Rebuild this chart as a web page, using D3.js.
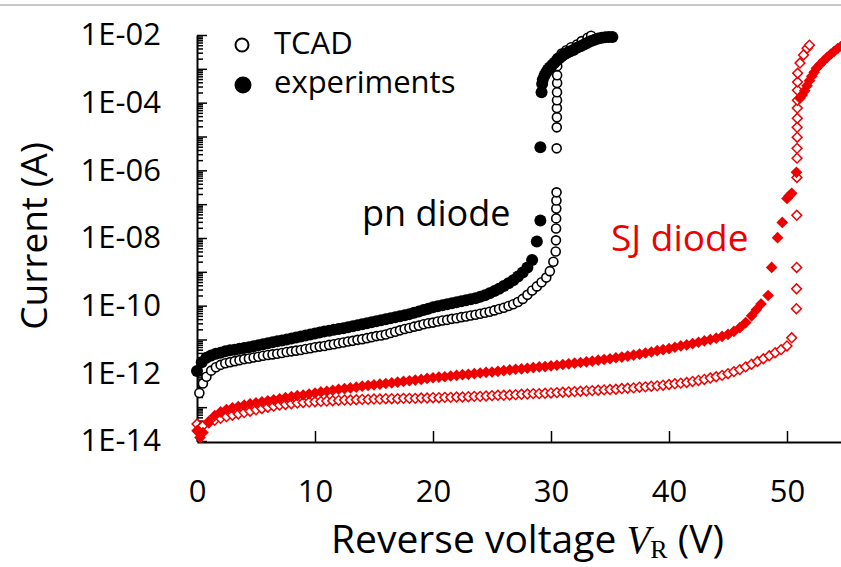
<!DOCTYPE html>
<html>
<head>
<meta charset="utf-8">
<script src="https://cdn.jsdelivr.net/npm/d3@7"></script>
<style>
body { margin: 0; background: #fff; }
text { font-family: "Open Sans", sans-serif; }
</style>
</head>
<body>
<script>
// pn diode, TCAD (open circles): reverse voltage (V) and log10 of current (A)
var pnTcadV = [0.2,0.5,0.8,1.2,1.6,2,2.4,2.8,3.2,3.6,
  4,4.4,4.8,5.2,5.6,6,6.4,6.8,7.2,7.6,
  8,8.4,8.8,9.2,9.6,10,10.4,10.8,11.2,11.6,
  12,12.4,12.8,13.2,13.6,14,14.4,14.8,15.2,15.6,
  16,16.4,16.8,17.2,17.6,18,18.4,18.8,19.2,19.6,
  20,20.4,20.8,21.2,21.6,22,22.4,22.8,23.2,23.6,
  24,24.4,24.8,25.2,25.6,26,26.4,26.8,27.2,27.6,
  28,28.4,28.8,29.2,29.6,29.9,30.2,
  30.4,30.42,30.43,30.44,30.45,30.46,30.47,30.48,30.49,30.5,30.5,30.51,30.51,30.52,30.52,30.53,30.55,
  30.9,31.3,31.7,32.2,32.6,33.1,33.4];
var pnTcadLogI = [-12.58,-12.30,-12.10,-11.92,-11.82,-11.75,-11.70,-11.67,-11.64,-11.61,
  -11.58,-11.56,-11.53,-11.51,-11.48,-11.46,-11.44,-11.42,-11.40,-11.37,
  -11.35,-11.33,-11.31,-11.28,-11.26,-11.23,-11.21,-11.19,-11.16,-11.14,
  -11.11,-11.09,-11.06,-11.04,-11.01,-10.99,-10.96,-10.93,-10.90,-10.88,
  -10.85,-10.81,-10.77,-10.73,-10.69,-10.66,-10.62,-10.59,-10.55,-10.52,
  -10.50,-10.47,-10.44,-10.42,-10.39,-10.37,-10.34,-10.32,-10.29,-10.27,
  -10.24,-10.21,-10.18,-10.14,-10.10,-10.06,-10.01,-9.96,-9.89,-9.80,
  -9.68,-9.55,-9.43,-9.31,-9.17,-8.98,-8.70,
  -8.40,-8.07,-7.72,-7.42,-7.13,-6.89,-6.65,-5.35,-4.73,-4.43,-4.16,-3.93,-3.69,-3.42,-3.19,-2.92,-2.68,
  -2.55,-2.45,-2.36,-2.28,-2.18,-2.08,-2.02];

// pn diode, experiments (filled circles)
var pnExpV = [0,0.4,0.8,1.2,1.6,2,2.4,2.8,3.2,3.6,
  4,4.4,4.8,5.2,5.6,6,6.4,6.8,7.2,7.6,
  8,8.4,8.8,9.2,9.6,10,10.4,10.8,11.2,11.6,
  12,12.4,12.8,13.2,13.6,14,14.4,14.8,15.2,15.6,
  16,16.4,16.8,17.2,17.6,18,18.4,18.8,19.2,19.6,
  20,20.4,20.8,21.2,21.6,22,22.4,22.8,23.2,23.6,
  24,24.4,24.8,25.2,25.6,26,26.4,26.8,27.2,27.6,
  28,28.4,28.8,
  29.1,29.1,29.2,29.25,29.3,29.45,29.6,29.75,29.9,30.1,
  30.3,30.5,30.7,30.9,31.1,31.3,31.6,31.9,32.2,32.5,
  32.8,33.1,33.4,33.7,34,34.3,34.6,34.9,35.2];
var pnExpLogI = [-11.93,-11.67,-11.54,-11.47,-11.42,-11.39,-11.35,-11.32,-11.30,-11.27,
  -11.25,-11.23,-11.20,-11.17,-11.14,-11.11,-11.08,-11.05,-11.03,-11.00,
  -10.97,-10.94,-10.91,-10.88,-10.85,-10.82,-10.79,-10.76,-10.74,-10.71,
  -10.69,-10.67,-10.64,-10.61,-10.58,-10.55,-10.52,-10.49,-10.46,-10.43,
  -10.40,-10.37,-10.34,-10.31,-10.28,-10.25,-10.21,-10.17,-10.13,-10.09,
  -10.05,-10.02,-9.99,-9.96,-9.93,-9.90,-9.87,-9.84,-9.81,-9.78,
  -9.74,-9.69,-9.63,-9.57,-9.50,-9.42,-9.34,-9.25,-9.14,-9.02,
  -8.87,-8.65,-8.10,
  -7.48,-5.32,-3.69,-3.45,-3.32,-3.20,-3.10,-3.02,-2.96,-2.89,
  -2.82,-2.75,-2.69,-2.63,-2.58,-2.54,-2.49,-2.44,-2.38,-2.33,
  -2.28,-2.23,-2.18,-2.14,-2.10,-2.08,-2.07,-2.06,-2.06];

// SJ diode, TCAD (open diamonds)
var sjTcadV = [0,0.25,0.5,1,1.5,2,2.5,3,3.5,4,
  4.5,5,5.5,6,6.5,7,7.5,8,8.5,9,
  9.5,10,10.5,11,11.5,12,12.5,13,13.5,14,
  14.5,15,15.5,16,16.5,17,17.5,18,18.5,19,
  19.5,20,20.5,21,21.5,22,22.5,23,23.5,24,
  24.5,25,25.5,26,26.5,27,27.5,28,28.5,29,
  29.5,30,30.5,31,31.5,32,32.5,33,33.5,34,
  34.5,35,35.5,36,36.5,37,37.5,38,38.5,39,
  39.5,40,40.5,41,41.5,42,42.5,43,43.5,44,
  44.5,45,45.5,46,46.5,47,47.5,48,48.5,49,
  49.5,50,50.4,
  50.8,50.81,50.82,50.83,50.84,50.85,50.85,50.86,50.86,50.87,50.87,50.88,50.88,50.89,50.9,
  51.1,51.4,51.7,51.9];
var sjTcadLogI = [-13.50,-13.62,-13.55,-13.46,-13.39,-13.33,-13.28,-13.24,-13.20,-13.16,
  -13.12,-13.08,-13.04,-13.00,-12.97,-12.94,-12.92,-12.90,-12.88,-12.86,
  -12.85,-12.84,-12.83,-12.82,-12.81,-12.80,-12.79,-12.79,-12.78,-12.77,
  -12.77,-12.76,-12.76,-12.75,-12.75,-12.75,-12.74,-12.74,-12.74,-12.73,
  -12.73,-12.72,-12.72,-12.71,-12.71,-12.70,-12.70,-12.69,-12.68,-12.68,
  -12.67,-12.66,-12.65,-12.65,-12.64,-12.63,-12.62,-12.61,-12.60,-12.60,
  -12.59,-12.58,-12.57,-12.56,-12.55,-12.54,-12.53,-12.52,-12.51,-12.50,
  -12.49,-12.48,-12.47,-12.45,-12.44,-12.43,-12.41,-12.40,-12.38,-12.37,
  -12.35,-12.33,-12.31,-12.29,-12.27,-12.24,-12.21,-12.18,-12.14,-12.10,
  -12.06,-12.01,-11.95,-11.89,-11.81,-11.73,-11.65,-11.57,-11.48,-11.39,
  -11.30,-11.19,-10.95,
  -10.09,-9.50,-8.87,-7.33,-6.21,-5.64,-5.35,-5.02,-4.73,-4.46,-4.16,-3.93,-3.63,-3.39,-3.13,
  -2.83,-2.59,-2.39,-2.30];

// SJ diode, experiments (filled diamonds)
var sjExpV = [0,0.25,0.5,1,1.5,2,2.5,3,3.5,4,
  4.5,5,5.5,6,6.5,7,7.5,8,8.5,9,
  9.5,10,10.5,11,11.5,12,12.5,13,13.5,14,
  14.5,15,15.5,16,16.5,17,17.5,18,18.5,19,
  19.5,20,20.5,21,21.5,22,22.5,23,23.5,24,
  24.5,25,25.5,26,26.5,27,27.5,28,28.5,29,
  29.5,30,30.5,31,31.5,32,32.5,33,33.5,34,
  34.5,35,35.5,36,36.5,37,37.5,38,38.5,39,
  39.5,40,40.5,41,41.5,42,42.5,43,43.5,44,
  44.5,45,45.5,46,46.5,47,47.4,47.8,48.4,48.7,
  49.2,49.6,50,50.2,50.4,50.8,51.1,51.3,51.5,51.7,
  51.9,52.1,52.3,52.5,52.8,53.1,53.4,53.7,54,54.3,
  54.6,54.9,55.2];
var sjExpLogI = [-13.70,-13.90,-13.75,-13.42,-13.25,-13.14,-13.07,-13.02,-12.98,-12.94,
  -12.90,-12.87,-12.84,-12.81,-12.78,-12.75,-12.72,-12.69,-12.66,-12.64,
  -12.61,-12.58,-12.55,-12.53,-12.50,-12.47,-12.45,-12.43,-12.41,-12.38,
  -12.36,-12.34,-12.32,-12.30,-12.28,-12.26,-12.24,-12.22,-12.20,-12.18,
  -12.15,-12.13,-12.11,-12.10,-12.08,-12.06,-12.04,-12.03,-12.01,-11.99,
  -11.97,-11.96,-11.94,-11.92,-11.90,-11.88,-11.87,-11.85,-11.83,-11.81,
  -11.80,-11.78,-11.76,-11.74,-11.72,-11.70,-11.68,-11.66,-11.64,-11.61,
  -11.59,-11.57,-11.54,-11.52,-11.49,-11.46,-11.43,-11.40,-11.37,-11.33,
  -11.30,-11.27,-11.23,-11.19,-11.16,-11.12,-11.08,-11.04,-11.00,-10.96,
  -10.91,-10.85,-10.76,-10.65,-10.50,-10.30,-10.12,-9.95,-9.70,-8.87,
  -7.99,-7.54,-6.83,-6.75,-6.68,-6.06,-3.87,-3.77,-3.65,-3.50,
  -3.35,-3.22,-3.10,-2.98,-2.87,-2.76,-2.66,-2.57,-2.48,-2.40,
  -2.33,-2.27,-2.22];

// axis ticks
var xTicks = [0, 10, 20, 30, 40, 50];
var yDecades = [1e-14,1e-13,1e-12,1e-11,1e-10,1e-9,1e-8,1e-7,1e-6,1e-5,1e-4,1e-3,1e-2];
var yLabelValues = [1e-14,1e-12,1e-10,1e-8,1e-6,1e-4,1e-2];
var yTickLabels = ["1E-14","1E-12","1E-10","1E-08","1E-06","1E-04","1E-02"];

var width = 841, height = 567;
var red = "#ee0000";

var x = d3.scaleLinear().domain([0, 55]).range([197, 846]);
var y = d3.scaleLog().domain([1e-14, 1e-2]).range([441, 35]);

var svg = d3.select("body").append("svg")
    .attr("width", width)
    .attr("height", height);

// grey rule along the top of the picture
svg.append("line")
    .attr("x1", 0).attr("x2", width)
    .attr("y1", 5).attr("y2", 5)
    .attr("stroke", "#c8c8c8")
    .attr("stroke-width", 2);

function points(vs, logs) {
    return vs.map(function(v, i) { return {v: v, i: Math.pow(10, logs[i])}; });
}

// minor log ticks (2..9 in every decade)
var minorTicks = [];
yDecades.slice(0, -1).forEach(function(d) {
    for (var k = 2; k <= 9; k++) minorTicks.push(d * k);
});

var yMinor = svg.append("g")
    .attr("transform", "translate(197,0)")
    .call(d3.axisLeft(y).tickValues(minorTicks).tickSize(-6).tickFormat(""));
yMinor.select(".domain").remove();
yMinor.selectAll("line").attr("stroke-width", 1.5);

var yMajor = svg.append("g")
    .attr("transform", "translate(197,0)")
    .call(d3.axisLeft(y).tickValues(yDecades).tickSize(-10).tickSizeOuter(0).tickFormat(""));
yMajor.selectAll("line").attr("stroke-width", 1.5);
yMajor.select(".domain").attr("stroke-width", 2);

var yLab = svg.append("g")
    .attr("transform", "translate(197,0)")
    .call(d3.axisLeft(y).tickValues(yLabelValues).tickSize(0).tickPadding(36)
        .tickFormat(function(d, i) { return yTickLabels[i]; }));
yLab.select(".domain").remove();
yLab.selectAll("text")
    .attr("font-family", "'Open Sans', sans-serif")
    .attr("font-size", 31)
    .attr("fill", "#000");

var xAxis = svg.append("g")
    .attr("transform", "translate(0,442)")
    .call(d3.axisBottom(x).tickValues(xTicks).tickSize(-11).tickSizeOuter(0).tickPadding(38));
xAxis.select(".domain").attr("stroke-width", 2);
xAxis.selectAll("line").attr("stroke-width", 1.5);
xAxis.selectAll("text")
    .attr("font-family", "'Open Sans', sans-serif")
    .attr("font-size", 31)
    .attr("fill", "#000");

// series
svg.append("g").selectAll("circle")
    .data(points(pnTcadV, pnTcadLogI))
  .enter().append("circle")
    .attr("cx", function(d) { return x(d.v); })
    .attr("cy", function(d) { return y(d.i); })
    .attr("r", 4.5)
    .attr("fill", "#fff")
    .attr("stroke", "#000")
    .attr("stroke-width", 1.6);

svg.append("g").selectAll("circle")
    .data(points(pnExpV, pnExpLogI))
  .enter().append("circle")
    .attr("cx", function(d) { return x(d.v); })
    .attr("cy", function(d) { return y(d.i); })
    .attr("r", 6)
    .attr("fill", "#000");

var diamondOpen = d3.symbol().type(d3.symbolSquare).size(48);
var diamondFull = d3.symbol().type(d3.symbolSquare).size(68);

svg.append("g").selectAll("path")
    .data(points(sjTcadV, sjTcadLogI))
  .enter().append("path")
    .attr("d", diamondOpen)
    .attr("transform", function(d) { return "translate(" + x(d.v) + "," + y(d.i) + ") rotate(45)"; })
    .attr("fill", "#fff")
    .attr("stroke", red)
    .attr("stroke-width", 1.5);

svg.append("g").selectAll("path")
    .data(points(sjExpV, sjExpLogI))
  .enter().append("path")
    .attr("d", diamondFull)
    .attr("transform", function(d) { return "translate(" + x(d.v) + "," + y(d.i) + ") rotate(45)"; })
    .attr("fill", red);

// legend
svg.append("circle").attr("cx", 242).attr("cy", 45).attr("r", 6.5)
    .attr("fill", "#fff").attr("stroke", "#000").attr("stroke-width", 2);
svg.append("text").attr("x", 274).attr("y", 54).attr("font-size", 31).text("TCAD");
svg.append("circle").attr("cx", 243).attr("cy", 85).attr("r", 8.5).attr("fill", "#000");
svg.append("text").attr("x", 274).attr("y", 93).attr("font-size", 31).text("experiments");

// curve labels
svg.append("text").attr("x", 362).attr("y", 226).attr("font-size", 36).text("pn diode");
svg.append("text").attr("x", 611).attr("y", 251).attr("font-size", 37)
    .attr("fill", red).text("SJ diode");

// axis titles
var xt = svg.append("text").attr("x", 331).attr("y", 553).attr("font-size", 39);
xt.append("tspan").text("Reverse voltage ");
xt.append("tspan").attr("font-family", "'Liberation Serif', serif")
    .attr("font-style", "italic").text("V");
xt.append("tspan").attr("font-family", "'Liberation Serif', serif")
    .attr("font-size", 26).attr("dy", 5).text("R");
xt.append("tspan").attr("dy", -5).text(" (V)");

svg.append("text")
    .attr("transform", "translate(47,236) rotate(-90)")
    .attr("text-anchor", "middle")
    .attr("font-size", 37)
    .text("Current (A)");
</script>
</body>
</html>
